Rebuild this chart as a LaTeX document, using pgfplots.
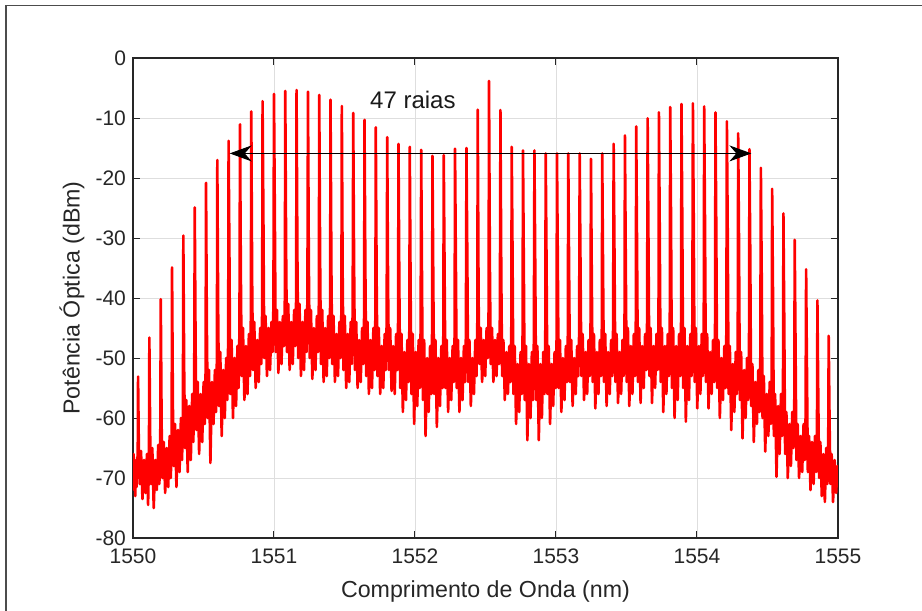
\documentclass[border=0pt]{standalone}
\usepackage{pgfplots}
\pgfplotsset{compat=1.18}
\usepackage{fontspec}
\setmainfont{Liberation Sans}
\usetikzlibrary{arrows.meta}
\begin{document}
\begin{tikzpicture}
\path[use as bounding box] (-66.5pt,-36.5pt) rectangle (394.5pt,269pt);
\draw[black!70, line width=0.8pt] (-63.5pt,-60pt) -- (-63.5pt,266.25pt) -- (420pt,266.25pt);
\begin{axis}[
  at={(0,0)}, anchor=south west,
  scale only axis, width=352.5pt, height=240pt,
  xmin=1550, xmax=1555, ymin=-80, ymax=0,
  scaled ticks=false,
  xtick={1550,1551,1552,1553,1554,1555},
  xticklabels={1550,1551,1552,1553,1554,1555},
  ytick={-80,-70,-60,-50,-40,-30,-20,-10,0},
  yticklabels={-80,-70,-60,-50,-40,-30,-20,-10,0},
  tick align=inside,
  major tick length=3.5pt,
  tick style={black!85, line width=0.5pt},
  axis line style={black!85, line width=0.6pt},
  grid=major,
  major grid style={line width=0.4pt, color=black!13},
  ticklabel style={font=\fontsize{10.5}{12}\selectfont, text=black!85},
  xticklabel style={yshift=-2pt},
  xlabel={Comprimento de Onda (nm)},
  ylabel={Potência Óptica (dBm)},
  label style={font=\fontsize{11.6}{13}\selectfont, text=black!85},
  xlabel style={at={(axis description cs:0.5,-0.1125)}, anchor=center},
  ylabel style={at={(axis description cs:-0.0865,0.5)}, anchor=center},
]
\addplot[color=red, line width=1.3pt, line join=round, mark=none] coordinates {
(1550.000,-69)(1550.004,-66)(1550.008,-72)(1550.012,-67)(1550.016,-73)(1550.020,-68)(1550.025,-71.5)(1550.029,-66.5)(1550.033,-70)
(1550.036,-53.1)(1550.042,-66)(1550.048,-71)(1550.057,-65.5)(1550.067,-73.5)(1550.078,-67)(1550.089,-72.5)(1550.099,-66)(1550.107,-74.5)(1550.113,-67)
(1550.116,-46.6)(1550.122,-63)(1550.128,-71)(1550.137,-65)(1550.147,-75)(1550.158,-67)(1550.169,-72)(1550.179,-64.5)(1550.187,-71)(1550.193,-66)
(1550.197,-40.2)(1550.203,-61)(1550.209,-70)(1550.218,-64)(1550.228,-72.5)(1550.239,-65)(1550.250,-71.5)(1550.260,-63)(1550.268,-70)(1550.274,-64)
(1550.277,-34.9)(1550.283,-58)(1550.289,-68)(1550.298,-61)(1550.308,-71.5)(1550.319,-62)(1550.330,-69)(1550.340,-60)(1550.348,-67)(1550.354,-59)
(1550.357,-29.6)(1550.363,-52)(1550.369,-65)(1550.378,-57)(1550.388,-69)(1550.399,-58)(1550.410,-67)(1550.420,-56)(1550.428,-64)(1550.434,-55)
(1550.438,-24.9)(1550.444,-48)(1550.450,-62)(1550.459,-54)(1550.469,-66)(1550.480,-56)(1550.491,-64)(1550.501,-54)(1550.509,-61)(1550.515,-52)
(1550.518,-20.8)(1550.524,-45)(1550.530,-60)(1550.539,-52)(1550.549,-67.5)(1550.560,-54)(1550.571,-61)(1550.581,-52)(1550.589,-59)(1550.595,-50)
(1550.598,-17.0)(1550.604,-42)(1550.610,-58)(1550.619,-49)(1550.629,-63)(1550.640,-52)(1550.651,-60)(1550.661,-50)(1550.669,-57)(1550.675,-47)
(1550.678,-13.8)(1550.684,-33)(1550.690,-56)(1550.699,-47)(1550.709,-60)(1550.720,-50)(1550.731,-58)(1550.741,-48)(1550.749,-55)(1550.755,-45)
(1550.759,-11.05)(1550.765,-36)(1550.771,-53)(1550.780,-45)(1550.790,-57)(1550.801,-48)(1550.812,-56)(1550.822,-46)(1550.830,-53)(1550.836,-43)
(1550.839,-8.9)(1550.845,-37)(1550.851,-52)(1550.860,-44)(1550.870,-55)(1550.881,-47)(1550.892,-54)(1550.902,-45)(1550.910,-51)(1550.916,-42)
(1550.919,-7.2)(1550.925,-27)(1550.931,-50)(1550.940,-43)(1550.950,-53)(1550.961,-45)(1550.972,-52)(1550.982,-44)(1550.990,-49)(1550.996,-41)
(1551.000,-6.0)(1551.006,-26)(1551.012,-49)(1551.021,-42)(1551.031,-52.5)(1551.042,-44)(1551.053,-51)(1551.063,-43)(1551.071,-48)(1551.077,-40)
(1551.080,-5.5)(1551.086,-32)(1551.092,-49)(1551.101,-41)(1551.111,-52)(1551.122,-44)(1551.133,-51)(1551.143,-42)(1551.151,-48)(1551.157,-40)
(1551.160,-5.33)(1551.166,-33)(1551.172,-50)(1551.181,-41)(1551.191,-53)(1551.202,-44)(1551.213,-52)(1551.223,-42)(1551.231,-49)(1551.237,-40)
(1551.241,-5.6)(1551.247,-34)(1551.253,-50)(1551.262,-42)(1551.272,-53.5)(1551.283,-45)(1551.294,-52)(1551.304,-43)(1551.312,-49)(1551.318,-41)
(1551.321,-6.17)(1551.327,-33)(1551.333,-51)(1551.342,-42)(1551.352,-54)(1551.363,-45)(1551.374,-53)(1551.384,-43)(1551.392,-50)(1551.398,-41)
(1551.401,-6.94)(1551.407,-35)(1551.413,-51)(1551.422,-43)(1551.432,-54)(1551.443,-46)(1551.454,-53)(1551.464,-44)(1551.472,-50)(1551.478,-42)
(1551.481,-8.0)(1551.487,-36)(1551.493,-52)(1551.502,-43)(1551.512,-55)(1551.523,-46)(1551.534,-54)(1551.544,-44)(1551.552,-51)(1551.558,-42)
(1551.562,-9.17)(1551.568,-34)(1551.574,-52)(1551.583,-44)(1551.593,-55)(1551.604,-47)(1551.615,-54)(1551.625,-45)(1551.633,-51)(1551.639,-43)
(1551.642,-10.3)(1551.648,-35)(1551.654,-53)(1551.663,-44)(1551.673,-56)(1551.684,-47)(1551.695,-55)(1551.705,-45)(1551.713,-52)(1551.719,-43)
(1551.722,-11.55)(1551.728,-37)(1551.734,-53)(1551.743,-45)(1551.753,-56)(1551.764,-48)(1551.775,-55)(1551.785,-46)(1551.793,-52)(1551.799,-44)
(1551.803,-13.2)(1551.809,-38)(1551.815,-52)(1551.824,-45)(1551.834,-55.5)(1551.845,-48)(1551.856,-56)(1551.866,-46)(1551.874,-52)(1551.880,-44)
(1551.883,-14.3)(1551.889,-38)(1551.895,-55)(1551.904,-46)(1551.914,-59)(1551.925,-49)(1551.936,-57)(1551.946,-47)(1551.954,-54)(1551.960,-45)
(1551.963,-14.8)(1551.969,-39)(1551.975,-56)(1551.984,-46)(1551.994,-61)(1552.005,-49)(1552.016,-58)(1552.026,-47)(1552.034,-55)(1552.040,-45)
(1552.044,-15.3)(1552.050,-38)(1552.056,-57)(1552.065,-47)(1552.075,-63)(1552.086,-50)(1552.097,-59)(1552.107,-48)(1552.115,-56)(1552.121,-46)
(1552.124,-16.3)(1552.130,-38)(1552.136,-56)(1552.145,-47)(1552.155,-61.5)(1552.166,-50)(1552.177,-58)(1552.187,-48)(1552.195,-55)(1552.201,-46)
(1552.204,-16.2)(1552.210,-36)(1552.216,-55)(1552.225,-47)(1552.235,-59)(1552.246,-50)(1552.257,-57)(1552.267,-48)(1552.275,-54)(1552.281,-46)
(1552.284,-15.1)(1552.290,-34)(1552.296,-55)(1552.305,-47)(1552.315,-59)(1552.326,-50)(1552.337,-57)(1552.347,-48)(1552.355,-54)(1552.361,-46)
(1552.365,-15.0)(1552.371,-33)(1552.377,-54)(1552.386,-47)(1552.396,-58)(1552.407,-50)(1552.418,-56)(1552.428,-47)(1552.436,-53)(1552.442,-44)
(1552.445,-8.6)(1552.451,-40)(1552.457,-51)(1552.466,-45)(1552.476,-54)(1552.487,-47)(1552.498,-53)(1552.508,-45)(1552.516,-50)(1552.522,-42)
(1552.525,-3.83)(1552.531,-34)(1552.537,-51)(1552.546,-45)(1552.556,-54)(1552.567,-47)(1552.578,-53)(1552.588,-46)(1552.596,-51)(1552.602,-43)
(1552.606,-8.67)(1552.612,-36)(1552.618,-53)(1552.627,-47)(1552.637,-57)(1552.648,-49)(1552.659,-56)(1552.669,-48)(1552.677,-54)(1552.683,-45)
(1552.686,-14.8)(1552.692,-33)(1552.698,-56)(1552.707,-48)(1552.717,-61)(1552.728,-51)(1552.739,-59)(1552.749,-49)(1552.757,-56)(1552.763,-46)
(1552.766,-15.4)(1552.772,-35)(1552.778,-57)(1552.787,-48)(1552.797,-63.7)(1552.808,-51)(1552.819,-60)(1552.829,-49)(1552.837,-57)(1552.843,-47)
(1552.847,-15.4)(1552.853,-35)(1552.859,-57)(1552.868,-48)(1552.878,-63.7)(1552.889,-51)(1552.900,-60)(1552.910,-49)(1552.918,-56)(1552.924,-47)
(1552.927,-15.9)(1552.933,-34)(1552.939,-56)(1552.948,-48)(1552.958,-61)(1552.969,-51)(1552.980,-58)(1552.990,-49)(1552.998,-55)(1553.004,-47)
(1553.007,-15.9)(1553.013,-34)(1553.019,-55)(1553.028,-47)(1553.038,-59)(1553.049,-50)(1553.060,-57)(1553.070,-48)(1553.078,-54)(1553.084,-46)
(1553.087,-15.9)(1553.093,-35)(1553.099,-54)(1553.108,-47)(1553.118,-58)(1553.129,-50)(1553.140,-56)(1553.150,-48)(1553.158,-53)(1553.164,-46)
(1553.168,-15.9)(1553.174,-35)(1553.180,-53)(1553.189,-46)(1553.199,-57)(1553.210,-49)(1553.221,-56)(1553.231,-47)(1553.239,-53)(1553.245,-45)
(1553.248,-16.8)(1553.254,-37)(1553.260,-54)(1553.269,-46)(1553.279,-58.4)(1553.290,-49)(1553.301,-56)(1553.311,-47)(1553.319,-53)(1553.325,-45)
(1553.328,-15.9)(1553.334,-36)(1553.340,-54)(1553.349,-46)(1553.359,-58)(1553.370,-49)(1553.381,-56)(1553.391,-47)(1553.399,-53)(1553.405,-45)
(1553.409,-14.3)(1553.415,-33)(1553.421,-54)(1553.430,-46)(1553.440,-57.5)(1553.451,-49)(1553.462,-56)(1553.472,-47)(1553.480,-53)(1553.486,-45)
(1553.489,-12.9)(1553.495,-34)(1553.501,-54)(1553.510,-45)(1553.520,-58)(1553.531,-48)(1553.542,-56)(1553.552,-46)(1553.560,-53)(1553.566,-44)
(1553.569,-11.4)(1553.575,-32)(1553.581,-54)(1553.590,-45)(1553.600,-57.5)(1553.611,-48)(1553.622,-55)(1553.632,-46)(1553.640,-52)(1553.646,-44)
(1553.650,-10.05)(1553.656,-31)(1553.662,-53)(1553.671,-45)(1553.681,-57.5)(1553.692,-48)(1553.703,-55)(1553.713,-46)(1553.721,-52)(1553.727,-44)
(1553.730,-9.06)(1553.736,-29)(1553.742,-54)(1553.751,-45)(1553.761,-59)(1553.772,-48)(1553.783,-56)(1553.793,-46)(1553.801,-53)(1553.807,-44)
(1553.810,-8.17)(1553.816,-27)(1553.822,-55)(1553.831,-45)(1553.841,-60)(1553.852,-48)(1553.863,-57)(1553.873,-46)(1553.881,-53)(1553.887,-44)
(1553.890,-7.67)(1553.896,-28)(1553.902,-55)(1553.911,-45)(1553.921,-60.6)(1553.932,-48)(1553.943,-57)(1553.953,-46)(1553.961,-53)(1553.967,-44)
(1553.971,-7.56)(1553.977,-27)(1553.983,-54)(1553.992,-45)(1554.002,-58.4)(1554.013,-48)(1554.024,-56)(1554.034,-46)(1554.042,-53)(1554.048,-44)
(1554.051,-8.06)(1554.057,-28)(1554.063,-54)(1554.072,-46)(1554.082,-58.4)(1554.093,-49)(1554.104,-56)(1554.114,-47)(1554.122,-54)(1554.128,-45)
(1554.131,-9.06)(1554.137,-29)(1554.143,-55)(1554.152,-47)(1554.162,-60)(1554.173,-50)(1554.184,-57)(1554.194,-48)(1554.202,-55)(1554.208,-46)
(1554.212,-10.56)(1554.218,-29)(1554.224,-56)(1554.233,-48)(1554.243,-62)(1554.254,-51)(1554.265,-59)(1554.275,-49)(1554.283,-56)(1554.289,-47)
(1554.292,-12.56)(1554.298,-30.5)(1554.304,-57)(1554.313,-49)(1554.323,-63.4)(1554.334,-52)(1554.345,-60)(1554.355,-50)(1554.363,-57)(1554.369,-48)
(1554.372,-15.2)(1554.378,-33)(1554.384,-58)(1554.393,-51)(1554.403,-64)(1554.414,-54)(1554.425,-61)(1554.435,-52)(1554.443,-59)(1554.449,-50)
(1554.453,-18.3)(1554.459,-36)(1554.465,-60)(1554.474,-53)(1554.484,-65.6)(1554.495,-56)(1554.506,-63)(1554.516,-54)(1554.524,-61)(1554.530,-52)
(1554.533,-21.8)(1554.539,-39)(1554.545,-63)(1554.554,-56)(1554.564,-69.8)(1554.575,-58)(1554.586,-66)(1554.596,-56)(1554.604,-63)(1554.610,-55)
(1554.613,-25.9)(1554.619,-44)(1554.625,-66)(1554.634,-59)(1554.644,-70)(1554.655,-61)(1554.666,-68)(1554.676,-59)(1554.684,-65)(1554.690,-58)
(1554.693,-30.3)(1554.699,-48)(1554.705,-67)(1554.714,-61)(1554.724,-70)(1554.735,-63)(1554.746,-69)(1554.756,-61)(1554.764,-67)(1554.770,-60)
(1554.774,-35.2)(1554.780,-52)(1554.786,-69)(1554.795,-63)(1554.805,-72)(1554.816,-64)(1554.827,-71)(1554.837,-63)(1554.845,-69)(1554.851,-62)
(1554.854,-40.4)(1554.860,-56)(1554.866,-70)(1554.875,-64)(1554.885,-73)(1554.896,-66)(1554.907,-74)(1554.917,-65)(1554.925,-71)(1554.931,-63)
(1554.934,-46.3)(1554.940,-60)(1554.946,-71)(1554.955,-66)(1554.965,-74)(1554.976,-67)(1554.987,-72.5)(1554.997,-68)(1555.000,-70)
};
\draw[black, line width=0.5pt, {Stealth[length=11pt,width=8pt,inset=3.5pt]}-{Stealth[length=11pt,width=8pt,inset=3.5pt]}]
  (axis cs:1550.686,-15.9) -- (axis cs:1554.386,-15.9);
\node[font=\fontsize{12}{14}\selectfont, text=black!90, anchor=center] at (axis cs:1551.985,-7.0) {47 raias};
\end{axis}
\end{tikzpicture}
\end{document}
